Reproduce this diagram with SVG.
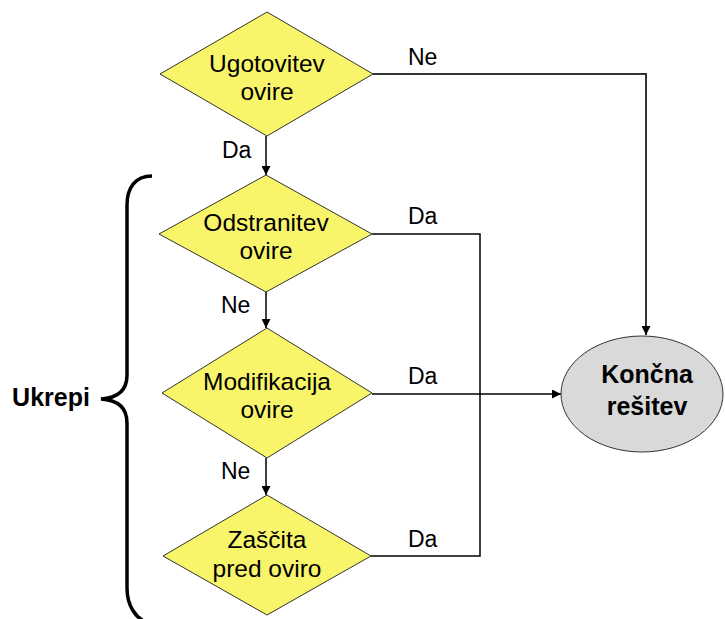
<svg xmlns="http://www.w3.org/2000/svg" width="725" height="619" viewBox="0 0 725 619">
<defs>
<marker id="arr" viewBox="0 0 10 10" refX="10" refY="5" markerWidth="10" markerHeight="9" markerUnits="userSpaceOnUse" orient="auto">
<path d="M0,0 L10,5 L0,10 z" fill="#000"/>
</marker>
<style>
.dia{fill:#F9F56A;stroke:#333;stroke-width:1}
.ell{fill:#D9D9D9;stroke:#333;stroke-width:1}
.t{font-family:"Liberation Sans",Arial,sans-serif;font-size:24.5px;fill:#000;text-anchor:middle}
.b{font-family:"Liberation Sans",Arial,sans-serif;font-size:25px;font-weight:bold;fill:#000;text-anchor:middle}
.l{font-family:"Liberation Sans",Arial,sans-serif;font-size:23px;fill:#000}
.c{fill:none;stroke:#000;stroke-width:1.5}
.c2{fill:none;stroke:#333;stroke-width:2}
</style>
</defs>
<rect width="725" height="619" fill="#fff"/>
<g id="connectors">
<line class="c" x1="266" y1="136" x2="266" y2="175" marker-end="url(#arr)"/>
<line class="c" x1="266" y1="292" x2="266" y2="328" marker-end="url(#arr)"/>
<line class="c" x1="266" y1="458" x2="266" y2="495" marker-end="url(#arr)"/>
<polyline class="c2" points="373,74 646,74 646,335" marker-end="url(#arr)"/>
<polyline class="c" points="372,234 480,234 480,556 371,556"/>
<line class="c" x1="372" y1="394" x2="561" y2="394" marker-end="url(#arr)"/>
<text class="l" x="222" y="158">Da</text>
<text class="l" x="221" y="313">Ne</text>
<text class="l" x="221" y="479">Ne</text>
<text class="l" x="408" y="65">Ne</text>
<text class="l" x="408" y="224">Da</text>
<text class="l" x="408" y="384">Da</text>
<text class="l" x="408" y="547">Da</text>
</g>
<g id="ugotovitev">
<polygon class="dia" points="267,12 373,74 267,136 160,74"/>
<text class="t" x="267" y="72">Ugotovitev</text>
<text class="t" x="267" y="100">ovire</text>
</g>
<g id="odstranitev">
<polygon class="dia" points="266,175 372,234 266,292 159,234"/>
<text class="t" x="266" y="231">Odstranitev</text>
<text class="t" x="266" y="259">ovire</text>
</g>
<g id="modifikacija">
<polygon class="dia" points="267,328 372,393 267,458 162,393"/>
<text class="t" x="267" y="390">Modifikacija</text>
<text class="t" x="267" y="418">ovire</text>
</g>
<g id="zascita">
<polygon class="dia" points="267,495 371,556 267,615 163,556"/>
<text class="t" x="267" y="548">Zaščita</text>
<text class="t" x="267" y="577">pred oviro</text>
</g>
<g id="koncna">
<ellipse class="ell" cx="642" cy="394" rx="81" ry="58"/>
<text class="b" x="647" y="383">Končna</text>
<text class="b" x="647" y="415">rešitev</text>
</g>
<g id="ukrepi">
<path d="M152,176 C135,176 127,188 127,205 L127,375 C127,390 118,398 101,399 C118,400 127,408 127,423 L127,588 C127,605 135,619 150,624" fill="none" stroke="#000" stroke-width="3.5"/>
<text class="b" x="51" y="406">Ukrepi</text>
</g>
</svg>
